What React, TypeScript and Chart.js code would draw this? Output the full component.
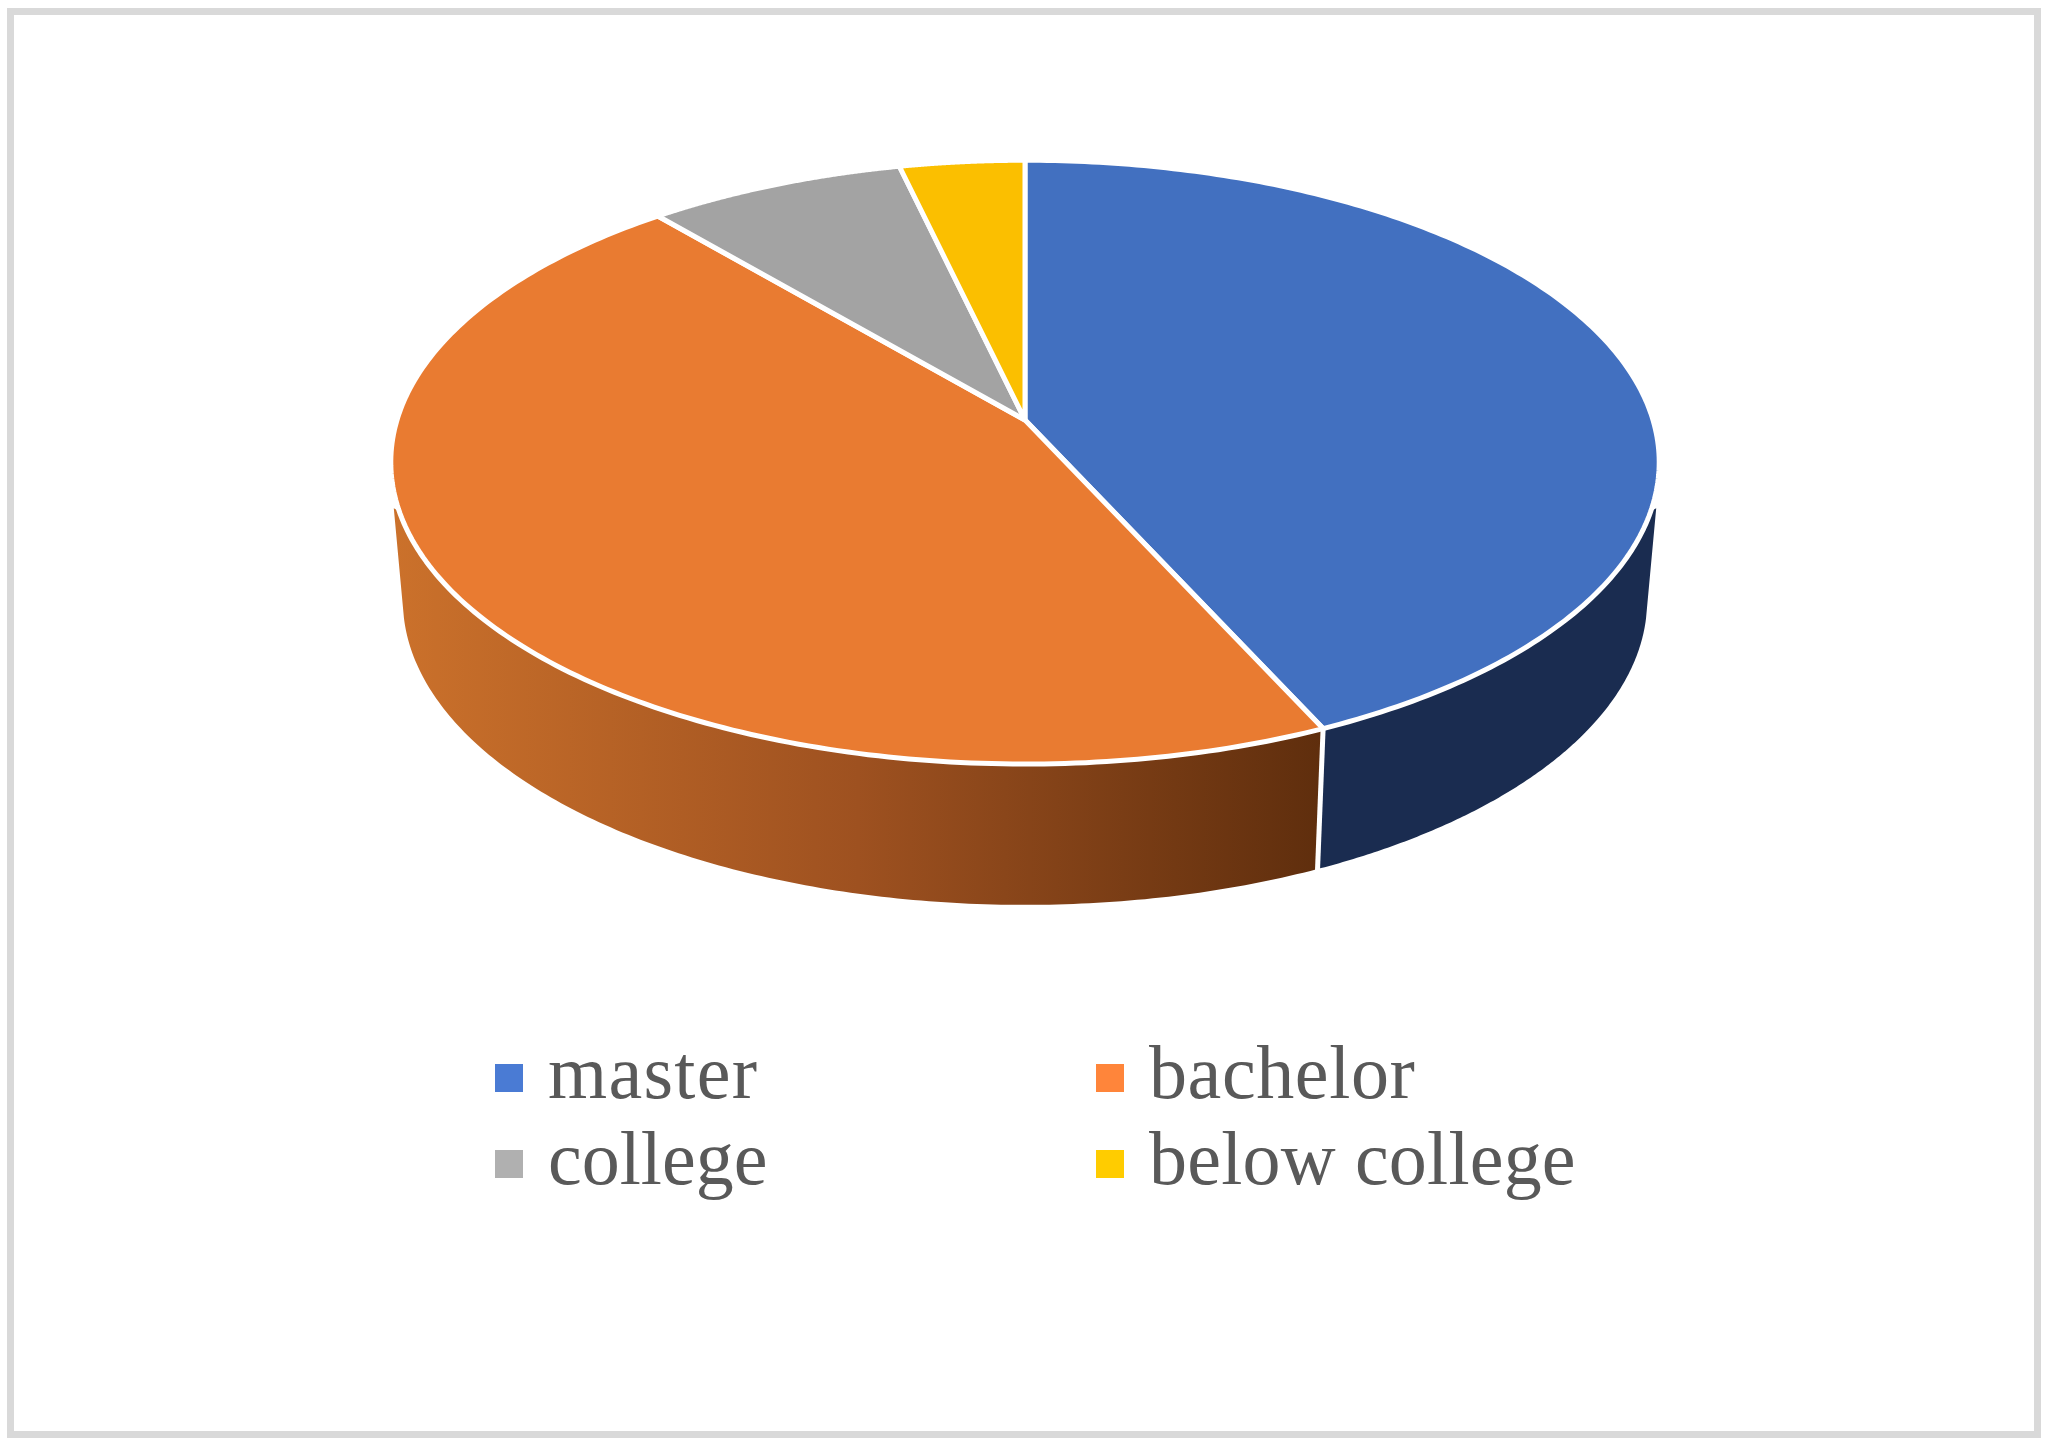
import React, { useEffect, useRef } from "react";
import { Chart, registerables } from "chart.js";

Chart.register(...registerables);

const categories = ["master", "bachelor", "college", "below college"];
const shares = [43.2, 45.6, 7.55, 3.65];
const topColors = ["#4270C0", "#E97B31", "#A3A3A3", "#FBBF00"];
const legendColors = ["#4A7BD4", "#FF853A", "#B0B0B0", "#FFCC00"];
const legendSpacing = ["1.3px", "0.6px", "0px", "0.2px"];
const wallStops: [number, string][][] = [
  [[0, "#1A2C50"], [1, "#1A2C50"]],
  [[0, "#CB712B"], [0.5, "#9E5120"], [1, "#5F2E0D"]],
  [[0, "#636363"], [1, "#636363"]],
  [[0, "#997300"], [1, "#997300"]],
];

// Oblique projection of the pie's disc onto the page
const view = {
  cx: 1025,
  cy: 420,
  ax: 628,
  ay: 296,
  p: 0.1396,
  depthY: 137.4,
  depthScaleX: 0.981,
  depthScaleY: 1.01,
  tipDrop: 46,
  tipInset: 3,
  tipArc: 0.16,
  hullArc: 0.06,
  sep: 5,
};

function project(angle: number, bottom: boolean): [number, number] {
  const u = Math.cos(angle);
  const v = Math.sin(angle);
  const w = 1 - view.p * v;
  const sx = bottom ? view.depthScaleX : 1;
  const sy = bottom ? view.depthScaleY : 1;
  const dy = bottom ? view.depthY : 0;
  return [view.cx + (sx * view.ax * u) / w, view.cy + dy + (sy * view.ay * v) / w];
}

const pie3d = {
  id: "pie3d",
  beforeDatasetDraw(chart: any) {
    const ctx: CanvasRenderingContext2D = chart.ctx;
    const arcs = chart.getDatasetMeta(0).data;
    const lo = Math.asin(view.p);
    const hi = Math.PI - lo;
    ctx.save();

    // frame
    ctx.strokeStyle = "#D9D9D9";
    ctx.lineWidth = 7;
    ctx.strokeRect(10.5, 11.5, 2027, 1423);

    // side walls
    arcs.forEach((arc: any, i: number) => {
      const a0 = Math.max(arc.startAngle, lo);
      const a1 = Math.min(arc.endAngle, hi);
      if (a1 <= a0) return;
      const clip0 = arc.startAngle < lo;
      const clip1 = arc.endAngle > hi;
      const t0 = clip0 ? lo + view.tipArc : a0;
      const t1 = clip1 ? hi - view.tipArc : a1;
      const b0 = clip0 ? lo + view.hullArc : a0;
      const b1 = clip1 ? hi - view.hullArc : a1;
      const g = ctx.createLinearGradient(394, 0, 1322, 0);
      wallStops[i].forEach(([o, c]) => g.addColorStop(o, c));
      ctx.fillStyle = g;
      ctx.beginPath();
      const n = 160;
      if (clip0) {
        const [x, y] = project(lo, false);
        ctx.moveTo(x - view.tipInset, y + view.tipDrop);
      }
      for (let k = 0; k <= n; k++) {
        const [x, y] = project(t0 + ((t1 - t0) * k) / n, false);
        k || clip0 ? ctx.lineTo(x, y) : ctx.moveTo(x, y);
      }
      if (clip1) {
        const [x, y] = project(hi, false);
        ctx.lineTo(x + view.tipInset, y + view.tipDrop);
      }
      for (let k = n; k >= 0; k--) {
        const [x, y] = project(b0 + ((b1 - b0) * k) / n, true);
        ctx.lineTo(x, y);
      }
      ctx.closePath();
      ctx.fill();
    });
    arcs.forEach((arc: any) => {
      if (arc.startAngle > lo && arc.startAngle < hi) {
        const [x0, y0] = project(arc.startAngle, false);
        const [x1, y1] = project(arc.startAngle, true);
        ctx.strokeStyle = "#FFFFFF";
        ctx.lineWidth = view.sep;
        ctx.beginPath();
        ctx.moveTo(x0, y0);
        ctx.lineTo(x1, y1 + 3);
        ctx.stroke();
      }
    });

    // top face
    arcs.forEach((arc: any, i: number) => {
      ctx.beginPath();
      ctx.moveTo(view.cx, view.cy);
      const n = 200;
      for (let k = 0; k <= n; k++) {
        const [x, y] = project(arc.startAngle + ((arc.endAngle - arc.startAngle) * k) / n, false);
        ctx.lineTo(x, y);
      }
      ctx.closePath();
      ctx.fillStyle = topColors[i];
      ctx.fill();
      ctx.strokeStyle = "#FFFFFF";
      ctx.lineWidth = view.sep;
      ctx.lineJoin = "round";
      ctx.stroke();
    });

    // legend
    const cols = [495, 1096];
    const rows = [1064, 1150];
    const textX = [548, 1149];
    ctx.font = '76px "Liberation Serif"';
    ctx.textBaseline = "alphabetic";
    ctx.textAlign = "left";
    categories.forEach((label, i) => {
      const c = i % 2;
      const r = Math.floor(i / 2);
      ctx.fillStyle = legendColors[i];
      ctx.fillRect(cols[c], rows[r], 28, 28);
      ctx.fillStyle = "#595959";
      (ctx as any).letterSpacing = legendSpacing[i];
      ctx.fillText(label, textX[c], rows[r] + 34);
    });

    ctx.restore();
    return false;
  },
};

export default function App() {
  const ref = useRef<HTMLCanvasElement>(null);
  useEffect(() => {
    const chart = new Chart(ref.current as HTMLCanvasElement, {
      type: "pie",
      data: {
        labels: categories,
        datasets: [{ data: shares, backgroundColor: topColors, borderColor: "#FFFFFF", borderWidth: 5 }],
      },
      options: {
        animation: false,
        responsive: false,
        devicePixelRatio: 1,
        plugins: { legend: { display: false }, tooltip: { enabled: false } },
      },
      plugins: [pie3d],
    } as any);
    return () => chart.destroy();
  }, []);
  return (
    <div style={{ position: "absolute", left: 0, top: 0, width: 2055, height: 1455, background: "#FFFFFF" }}>
      <canvas ref={ref} width={2055} height={1455} style={{ display: "block", width: 2055, height: 1455 }} />
    </div>
  );
}
